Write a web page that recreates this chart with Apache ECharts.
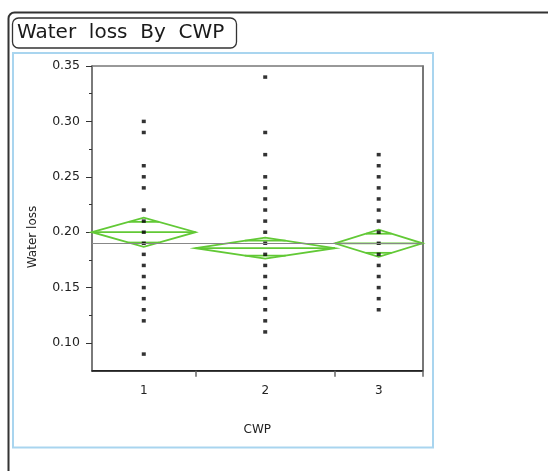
<!DOCTYPE html>
<html>
<head>
<meta charset="utf-8">
<script src="https://cdn.jsdelivr.net/npm/echarts@6/dist/echarts.min.js"></script>
<style>
  html, body { margin: 0; padding: 0; background: #fff; }
  #chart { width: 548px; height: 471px; }
</style>
</head>
<body>
<div id="chart"></div>
<script>
// CWP groups, x widths proportional to group size (JMP style)
const categories = ['1', '2', '3']
const groupSizes = [26, 35, 22]
const group1 = [0.30, 0.29, 0.26, 0.25, 0.24, 0.22, 0.21, 0.20, 0.19, 0.18, 0.17, 0.16, 0.15, 0.14, 0.13, 0.12, 0.09]
const group2 = [0.34, 0.29, 0.27, 0.25, 0.24, 0.23, 0.22, 0.21, 0.20, 0.19, 0.18, 0.17, 0.16, 0.15, 0.14, 0.13, 0.12, 0.11]
const group3 = [0.27, 0.26, 0.25, 0.24, 0.23, 0.22, 0.21, 0.20, 0.19, 0.18, 0.17, 0.16, 0.15, 0.14, 0.13]
const groupMeans = [0.200, 0.1856, 0.190]
const ciHalf = [0.0132, 0.0095, 0.0122]
const grandMean = 0.1916
const yTicks = [0.10, 0.15, 0.20, 0.25, 0.30, 0.35]
const yMinorTicks = [0.125, 0.175, 0.225, 0.275, 0.325]

const font = 'DejaVu Sans'
const green = '#62c936'

const starts = []
let acc = 0
for (const n of groupSizes) { starts.push(acc); acc += n }
const xMax = acc
const centers = groupSizes.map((n, i) => starts[i] + n / 2)
const bounds = starts.slice(1).concat([xMax])

const scatterData = []
;[group1, group2, group3].forEach((vals, i) => {
  for (const v of vals) scatterData.push([centers[i], v])
})

const chart = echarts.init(document.getElementById('chart'))
const option = {
  animation: false,
  grid: {
    left: 92, right: 125.5, top: 66, bottom: 100.3,
    show: true, borderColor: '#333', borderWidth: 1
  },
  xAxis: {
    type: 'value', min: 0, max: xMax,
    splitLine: { show: false },
    axisLine: { lineStyle: { color: '#111', width: 1.5 } },
    axisTick: { customValues: bounds, length: 6, lineStyle: { color: '#666', width: 1.5 } },
    axisLabel: {
      customValues: centers, margin: 14,
      fontFamily: font, fontSize: 12, color: '#222',
      formatter: v => categories[centers.indexOf(v)]
    },
    name: 'CWP', nameLocation: 'middle', nameGap: 53,
    nameTextStyle: { fontFamily: font, fontSize: 12, color: '#222' }
  },
  yAxis: [{
    type: 'value', min: 0.075, max: 0.35, position: 'left',
    splitLine: { show: false },
    axisLine: { lineStyle: { color: '#7a7a7a', width: 2 } },
    axisTick: { customValues: yTicks, length: 6, lineStyle: { color: '#333' } },
    axisLabel: {
      customValues: yTicks, margin: 12,
      fontFamily: font, fontSize: 12.5, color: '#222',
      formatter: v => v.toFixed(2)
    }
  }, {
    type: 'value', min: 0.075, max: 0.35, position: 'left',
    splitLine: { show: false },
    axisLine: { show: false },
    axisTick: { customValues: yMinorTicks, length: 3, lineStyle: { color: '#333' } },
    axisLabel: { show: false }
  }, {
    type: 'value', min: 0.075, max: 0.35, position: 'right',
    splitLine: { show: false },
    axisLine: { lineStyle: { color: '#777', width: 2 } },
    axisTick: { show: false },
    axisLabel: { show: false }
  }],
  graphic: [
    { type: 'rect', shape: { x: 8.5, y: 12.5, width: 700, height: 600, r: 6 },
      style: { fill: 'none', stroke: '#333', lineWidth: 2 }, z: 0 },
    { type: 'rect', shape: { x: 13, y: 53, width: 420, height: 394.5 },
      style: { fill: 'none', stroke: '#a9d5ef', lineWidth: 2 }, z: 0 },
    { type: 'rect', shape: { x: 12.5, y: 18, width: 224, height: 30, r: 6 },
      style: { fill: '#fff', stroke: '#333', lineWidth: 1.3 }, z: 1 },
    { type: 'text', x: 17, y: 33,
      style: { text: 'Water  loss  By  CWP', font: '20px "DejaVu Sans"', fill: '#1a1a1a', verticalAlign: 'middle' }, z: 2 },
    { type: 'text', x: 33, y: 237, rotation: Math.PI / 2,
      style: { text: 'Water loss', font: '12px "DejaVu Sans"', fill: '#222', align: 'center', verticalAlign: 'middle' }, z: 2 }
  ],
  series: [{
    type: 'custom',
    z: 3,
    data: groupMeans.map((m, i) => [i, m, ciHalf[i]]),
    renderItem: (params, api) => {
      const i = api.value(0), m = api.value(1), h = api.value(2)
      const x0 = starts[i], x1 = starts[i] + groupSizes[i], xc = centers[i]
      const L = api.coord([x0, m]), R = api.coord([x1, m])
      const T = api.coord([xc, m + h]), B = api.coord([xc, m - h])
      const k = 1 - 1 / Math.SQRT2
      const w = groupSizes[i] / 2 * k
      const oh = h / Math.SQRT2
      const style = { stroke: green, lineWidth: 1.8, fill: 'none' }
      const seg = (a, b) => ({ type: 'line', shape: { x1: a[0], y1: a[1], x2: b[0], y2: b[1] }, style })
      return {
        type: 'group',
        children: [
          { type: 'polygon', shape: { points: [L, T, R, B] }, style },
          seg(L, R),
          seg(api.coord([xc - w, m + oh]), api.coord([xc + w, m + oh])),
          seg(api.coord([xc - w, m - oh]), api.coord([xc + w, m - oh]))
        ]
      }
    },
    markLine: {
      silent: true, symbol: 'none',
      label: { show: false },
      lineStyle: { color: '#888', width: 1.2, type: 'solid' },
      data: [{ yAxis: grandMean }]
    }
  }, {
    type: 'scatter',
    z: 4,
    symbol: 'rect',
    symbolSize: [4, 3.5],
    itemStyle: { color: '#000' },
    data: scatterData
  }]
}
chart.setOption(option)
</script>
</body>
</html>
